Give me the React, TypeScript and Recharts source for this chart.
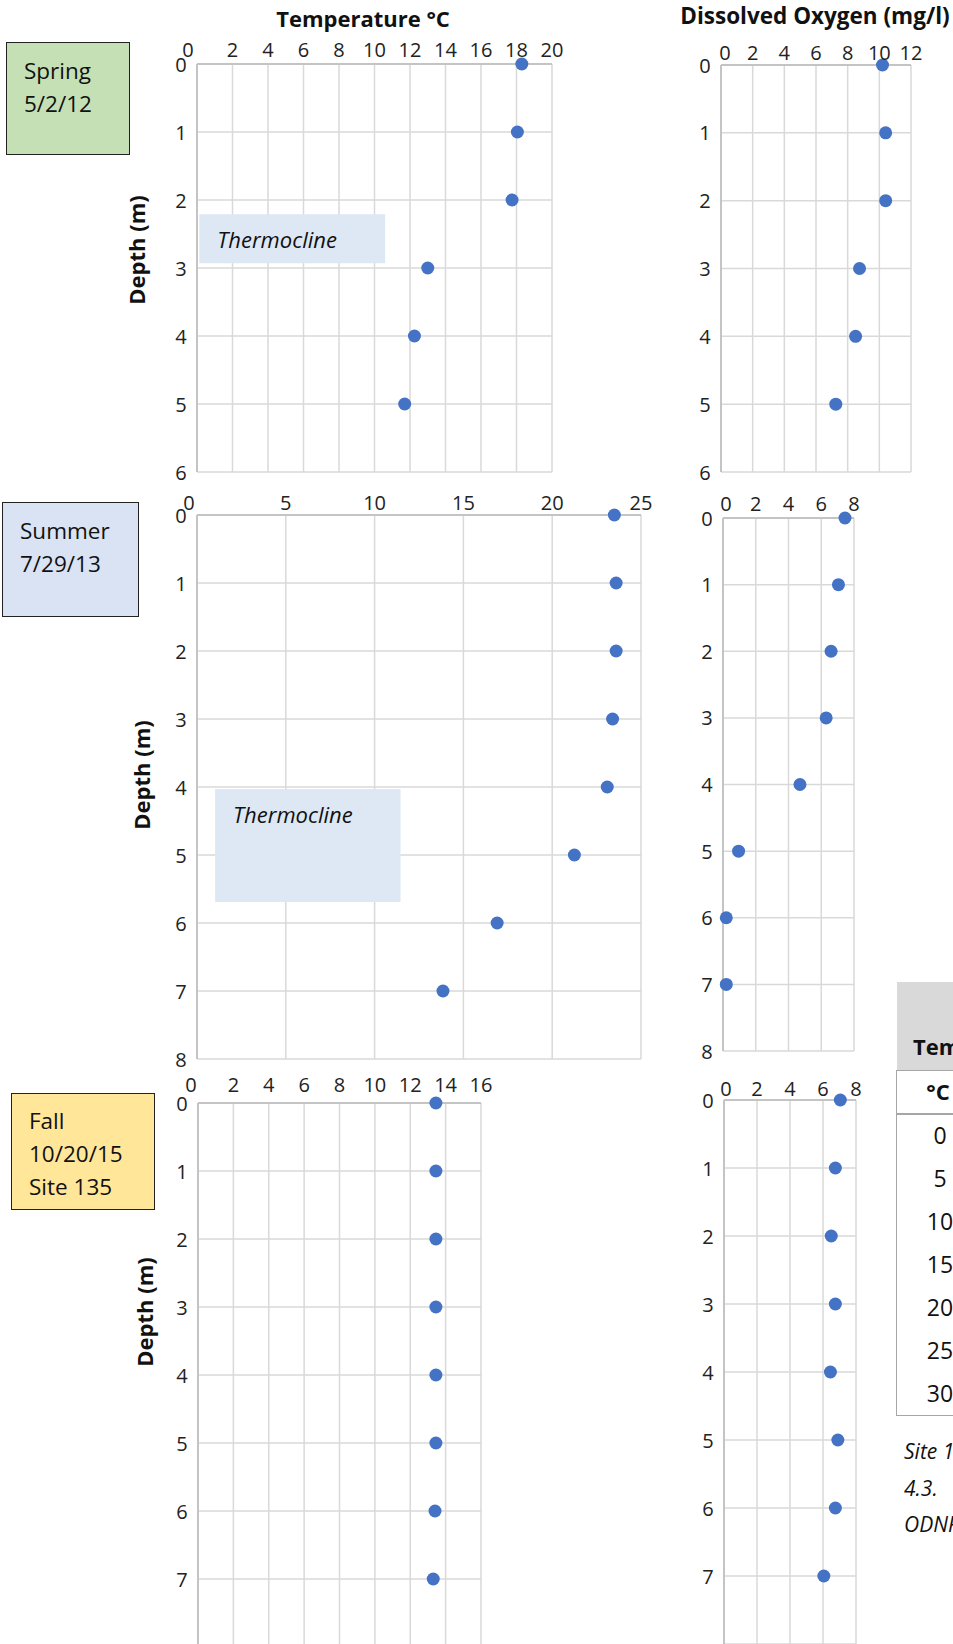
import React from 'react'
import { ScatterChart, Scatter, XAxis, YAxis, CartesianGrid, ReferenceArea } from 'recharts'

const FONT = '"Open Sans", sans-serif'
const DOT = '#4472C4'

// spring 5/2/12
const springDepths = [0, 1, 2, 3, 4, 5]
const springTemp = [18.3, 18.05, 17.75, 13.0, 12.25, 11.7]
const springDO = [10.2, 10.4, 10.4, 8.75, 8.5, 7.25]

// summer 7/29/13
const summerDepths = [0, 1, 2, 3, 4, 5, 6, 7]
const summerTemp = [23.5, 23.6, 23.6, 23.4, 23.1, 21.25, 16.9, 13.85]
const summerDO = [7.45, 7.05, 6.6, 6.3, 4.7, 0.95, 0.2, 0.2]

// fall 10/20/15, site 135
const fallDepths = [0, 1, 2, 3, 4, 5, 6, 7]
const fallTemp = [13.45, 13.45, 13.45, 13.45, 13.45, 13.45, 13.4, 13.3]
const fallDO = [7.05, 6.75, 6.5, 6.75, 6.45, 6.9, 6.75, 6.05]

const springTempTicks = [0, 2, 4, 6, 8, 10, 12, 14, 16, 18, 20]
const springDOTicks = [0, 2, 4, 6, 8, 10, 12]
const summerTempTicks = [0, 5, 10, 15, 20, 25]
const doTicks8 = [0, 2, 4, 6, 8]
const fallTempTicks = [0, 2, 4, 6, 8, 10, 12, 14, 16]
const depthTicks6 = [0, 1, 2, 3, 4, 5, 6]
const depthTicks8 = [0, 1, 2, 3, 4, 5, 6, 7, 8]
// fall plots run off the bottom of the page, 8 m is not shown
const depthTicks7 = [0, 1, 2, 3, 4, 5, 6, 7]

const tableTemps = [0, 5, 10, 15, 20, 25, 30]

const AX_H = 40
const AX_W = 40
const TICK_SIZE = 20

function TopTick(props: any) {
  const { x, payload, gap, zeroDx } = props
  const dx = payload.value === 0 ? zeroDx : 0
  return (
    <text x={x + dx} y={AX_H - gap} textAnchor="middle" dominantBaseline="central"
      fontSize={TICK_SIZE} fontFamily={FONT} fill="#222">
      {payload.value}
    </text>
  )
}

function LeftTick(props: any) {
  const { y, payload } = props
  return (
    <text x={AX_W - 16} y={y} textAnchor="middle" dominantBaseline="central"
      fontSize={TICK_SIZE} fontFamily={FONT} fill="#222">
      {payload.value}
    </text>
  )
}

function ThermoLabel(props: any) {
  const vb = props.viewBox
  return (
    <text x={vb.x + 18} y={vb.y + 25} dominantBaseline="central" fontStyle="italic"
      fontSize={22} fontFamily={FONT} fill="#111">
      Thermocline
    </text>
  )
}

const renderDot = (p: any) => <circle cx={p.cx} cy={p.cy} r={6.5} fill={DOT} />

interface PlotProps {
  left: number
  top: number
  width: number
  height: number
  xTicks: number[]
  yTicks: number[]
  yMax: number
  depths: number[]
  values: number[]
  gap: number
  zeroDx: number
  thermo?: [number, number, number, number]
}

function DepthPlot({ left, top, width, height, xTicks, yTicks, yMax, depths, values, gap, zeroDx, thermo }: PlotProps) {
  const data = depths.map((d, i) => ({ x: values[i], y: d }))
  return (
    <div style={{ position: 'absolute', left: left - AX_W, top: top - AX_H }}>
      <ScatterChart width={width + AX_W + 12} height={height + AX_H + 12}
        margin={{ top: 0, left: 0, right: 12, bottom: 12 }}>
        <CartesianGrid stroke="#d9d9d9" strokeWidth={1.5} />
        <XAxis type="number" dataKey="x" orientation="top" domain={[0, xTicks[xTicks.length - 1]]}
          ticks={xTicks} interval={0} height={AX_H} tickLine={false}
          axisLine={{ stroke: '#c4c4c4', strokeWidth: 2 }}
          tick={<TopTick gap={gap} zeroDx={zeroDx} />} />
        <YAxis type="number" dataKey="y" reversed domain={[0, yMax]}
          ticks={yTicks} interval={0} width={AX_W} tickLine={false}
          axisLine={{ stroke: '#c4c4c4', strokeWidth: 2 }}
          tick={<LeftTick />} />
        {thermo && (
          <ReferenceArea x1={thermo[0]} x2={thermo[1]} y1={thermo[2]} y2={thermo[3]}
            fill="#dde8f4" fillOpacity={1} stroke="none" label={<ThermoLabel />} />
        )}
        <Scatter data={data} isAnimationActive={false} shape={renderDot} />
      </ScatterChart>
    </div>
  )
}

function Txt({ x, y, size, bold, italic, center, children }: any) {
  return (
    <div style={{
      position: 'absolute', left: x, top: y, fontSize: size, lineHeight: 1,
      fontWeight: bold ? 700 : 400, fontStyle: italic ? 'italic' : 'normal',
      whiteSpace: 'nowrap', transform: `translate(${center ? '-50%' : '0'}, -50%)`,
    }}>
      {children}
    </div>
  )
}

function SeasonBox({ x, y, w, h, fill, lines, tx, ty }: any) {
  return (
    <div style={{
      position: 'absolute', left: x, top: y, width: w, height: h, background: fill,
      border: '1.5px solid #222', boxSizing: 'border-box',
    }}>
      {lines.map((l: string, i: number) => (
        <Txt key={l} x={tx} y={ty + i * 33} size={22.5}>{l}</Txt>
      ))}
    </div>
  )
}

function DepthLabel({ x, y }: { x: number; y: number }) {
  return (
    <div style={{
      position: 'absolute', left: x, top: y, fontSize: 22, fontWeight: 700, lineHeight: 1,
      whiteSpace: 'nowrap', transform: 'translate(-50%, -50%) rotate(-90deg)',
    }}>
      Depth (m)
    </div>
  )
}

export default function App() {
  return (
    <div style={{
      position: 'absolute', left: 0, top: 0, width: 953, height: 1644, overflow: 'hidden',
      background: '#fff', fontFamily: FONT, color: '#111',
    }}>
      <Txt x={363} y={18} size={22} bold center>Temperature °C</Txt>
      <Txt x={815} y={16} size={22.5} bold center>Dissolved Oxygen (mg/l)</Txt>

      <SeasonBox x={6} y={42} w={124} h={113} fill="#c5e0b4" lines={['Spring', '5/2/12']} tx={17} ty={28} />
      <SeasonBox x={2} y={502} w={137} h={115} fill="#dae3f3" lines={['Summer', '7/29/13']} tx={17} ty={28} />
      <SeasonBox x={11} y={1093} w={144} h={117} fill="#ffe699" lines={['Fall', '10/20/15', 'Site 135']} tx={17} ty={27} />

      <DepthLabel x={136} y={250} />
      <DepthLabel x={141} y={775} />
      <DepthLabel x={144} y={1312} />

      <DepthPlot left={197} top={64} width={355} height={408} xTicks={springTempTicks} yTicks={depthTicks6} yMax={6}
        depths={springDepths} values={springTemp} gap={15} zeroDx={-9} thermo={[0.13, 10.6, 2.21, 2.93]} />
      <DepthPlot left={721} top={65} width={190} height={407} xTicks={springDOTicks} yTicks={depthTicks6} yMax={6}
        depths={springDepths} values={springDO} gap={12.5} zeroDx={4} />

      <DepthPlot left={197} top={515} width={444} height={544} xTicks={summerTempTicks} yTicks={depthTicks8} yMax={8}
        depths={summerDepths} values={summerTemp} gap={13} zeroDx={-8} thermo={[1.02, 11.46, 4.03, 5.69]} />
      <DepthPlot left={723} top={518} width={131} height={533} xTicks={doTicks8} yTicks={depthTicks8} yMax={8}
        depths={summerDepths} values={summerDO} gap={15} zeroDx={3} />

      <DepthPlot left={198} top={1103} width={283} height={544} xTicks={fallTempTicks} yTicks={depthTicks7} yMax={8}
        depths={fallDepths} values={fallTemp} gap={19} zeroDx={-7} />
      <DepthPlot left={724} top={1100} width={132} height={544} xTicks={doTicks8} yTicks={depthTicks7} yMax={8}
        depths={fallDepths} values={fallDO} gap={12} zeroDx={2} />

      {/* table clipped at the right edge */}
      <div style={{ position: 'absolute', left: 897, top: 982, width: 120, height: 88, background: '#d9d9d9' }} />
      <Txt x={913} y={1046} size={22} bold>Temperature</Txt>
      <div style={{
        position: 'absolute', left: 896, top: 1070, width: 120, height: 346,
        border: '1.5px solid #a6a6a6', boxSizing: 'border-box',
      }} />
      <div style={{ position: 'absolute', left: 897, top: 1113, width: 120, height: 1.5, background: '#a6a6a6' }} />
      <Txt x={938} y={1091} size={22} bold center>°C</Txt>
      {tableTemps.map((t, i) => (
        <Txt key={t} x={940} y={1135 + i * 43} size={23} center>{t}</Txt>
      ))}
      <Txt x={904} y={1451} size={21} italic>Site 135</Txt>
      <Txt x={904} y={1488} size={21} italic>4.3.</Txt>
      <Txt x={904} y={1524} size={21} italic>ODNR</Txt>
    </div>
  )
}
